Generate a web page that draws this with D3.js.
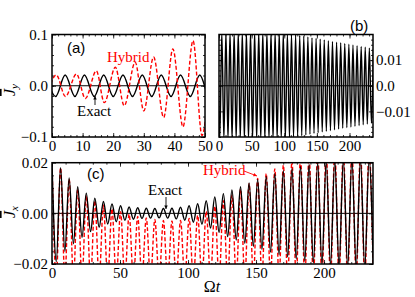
<!DOCTYPE html>
<html>
<head>
<meta charset="utf-8">
<script src="https://cdn.jsdelivr.net/npm/d3@7"></script>
<style>
  body { margin: 0; background: #fff; }
</style>
</head>
<body>
<div id="chart"></div>
<script>
// extrema (time Ωt, value)
const jyExactT = [-1.9, 1.2, 4.3, 7.5, 10.6, 13.8, 16.9, 20.0, 23.2, 26.3, 29.5, 32.6, 35.7, 38.9, 42.0, 45.2, 48.3,
  51.4, 54.6, 57.7, 60.9, 64.0, 67.1, 70.3, 73.4, 76.6, 79.7, 82.8, 86.0, 89.1, 92.3, 95.4, 98.5, 101.7, 104.8,
  108.0, 111.1, 114.2, 117.4, 120.5, 123.7, 126.8, 129.9, 133.1, 136.2, 139.4, 142.5, 145.6, 148.8, 151.9, 155.1,
  158.2, 161.3, 164.5, 167.6, 170.8, 173.9, 177.0, 180.2, 183.3, 186.5, 189.6, 192.7, 195.9, 199.0, 202.2, 205.3,
  208.4, 211.6, 214.7, 217.9, 221.0, 224.1, 227.3, 230.4, 233.6, 236.7];
const jyExact = [0.021, -0.021, 0.021, -0.021, 0.021, -0.021, 0.021, -0.021, 0.021, -0.021, 0.021, -0.021, 0.021,
  -0.021, 0.021, -0.021, 0.021, -0.021, 0.021, -0.021, 0.021, -0.021, 0.021, -0.021, 0.021, -0.021, 0.021, -0.021,
  0.021, -0.021, 0.021, -0.0209, 0.0207, -0.0206, 0.0204, -0.0203, 0.0202, -0.0200, 0.0199, -0.0197, 0.0196,
  -0.0195, 0.0193, -0.0192, 0.0190, -0.0189, 0.0187, -0.0186, 0.0185, -0.0183, 0.0182, -0.0180, 0.0179, -0.0178,
  0.0176, -0.0175, 0.0173, -0.0172, 0.0170, -0.0169, 0.0168, -0.0166, 0.0165, -0.0163, 0.0162, -0.0161, 0.0159,
  -0.0158, 0.0156, -0.0155, 0.0153, -0.0152, 0.0150, -0.0149, 0.0147, -0.0146, 0.0144];

const jyHybridT = [-1.6, 1.4, 4.4, 8.0, 10.9, 14.5, 17.1, 20.7, 23.6, 27.2, 30.0, 33.2, 36.5, 39.5, 42.8, 46.1, 49.0, 52.3];
const jyHybrid = [-0.02, 0.021, -0.021, 0.023, -0.025, 0.029, -0.033, 0.036, -0.039, 0.046, -0.049, 0.056, -0.062,
  0.072, -0.080, 0.088, -0.097, 0.1];

const jxT = [0, 3.15, 6.3, 9.45, 12.6, 15.75, 18.9, 22.05, 25.2, 28.35, 31.5, 34.65, 37.8, 40.95, 44.1, 47.25, 50.4,
  53.55, 56.7, 59.85, 63.0, 66.15, 69.3, 72.45, 75.6, 78.75, 81.9, 85.05, 88.2, 91.35, 94.5, 97.65, 100.8, 103.95,
  107.1, 110.25, 113.4, 116.55, 119.7, 122.85, 126.0, 129.15, 132.3, 135.45, 138.6, 141.75, 144.9, 148.05, 151.2,
  154.35, 157.5, 160.65, 163.8, 166.95, 170.1, 173.25, 176.4, 179.55, 182.7, 185.85, 189.0, 192.15, 195.3, 198.45,
  201.6, 204.75, 207.9, 211.05, 214.2, 217.35, 220.5, 223.65, 226.8, 229.95, 233.1, 236.25];
const jxExact = [0.020, -0.019, 0.018, -0.015, 0.014, -0.012, 0.0105, -0.0095, 0.008, -0.0072, 0.006, -0.0055,
  0.0047, -0.0042, 0.0037, -0.0033, 0.003, -0.0027, 0.0025, -0.0023, 0.0022, -0.002, 0.002, -0.0019, 0.0019,
  -0.0018, 0.0019, -0.0019, 0.002, -0.0022, 0.0024, -0.0027, 0.003, -0.0035, 0.0038, -0.0043, 0.005, -0.0058,
  0.0065, -0.0075, 0.0078, -0.0092, 0.0092, -0.0105, 0.0105, -0.0118, 0.012, -0.013, 0.0133, -0.0142, 0.0146,
  -0.0153, 0.0158, -0.0163, 0.0168, -0.0172, 0.0177, -0.018, 0.0185, -0.0188, 0.0193, -0.0195, 0.02, -0.0201,
  0.0205, -0.0206, 0.021, -0.021, 0.0213, -0.0213, 0.0215, -0.0215, 0.0216, -0.0216, 0.0217, -0.0217];
const jxHybrid = [0.020, -0.026, 0.018, -0.026, 0.0135, -0.026, 0.0095, -0.026, 0.007, -0.026, 0.005, -0.026,
  0.0032, -0.026, 0.0018, -0.026, 0.0007, -0.026, -0.0003, -0.026, -0.0012, -0.026, -0.0018, -0.026, -0.0024,
  -0.026, -0.0028, -0.026, -0.003, -0.026, -0.0028, -0.026, -0.002, -0.026, -0.0008, -0.026, 0.0008, -0.026,
  0.0028, -0.026, 0.005, -0.026, 0.0072, -0.026, 0.0095, -0.026, 0.0117, -0.026, 0.0138, -0.026, 0.0157, -0.026,
  0.0175, -0.026, 0.019, -0.026, 0.0205, -0.026, 0.022, -0.026, 0.023, -0.026, 0.024, -0.026, 0.0245, -0.026,
  0.025, -0.026, 0.025, -0.026, 0.025, -0.026, 0.025, -0.026, 0.025, -0.026];

const svg = d3.select("#chart")
    .append("svg")
    .attr("width", 415)
    .attr("height", 297);

const serif = "Liberation Serif";
const sans = "Liberation Sans";
const red = "#ff0000";

function panel(id, box, xDom, yDom) {
    const x = d3.scaleLinear().domain(xDom).range([box.l, box.r]);
    const y = d3.scaleLinear().domain(yDom).range([box.b, box.t]);
    svg.append("clipPath").attr("id", id)
        .append("rect")
        .attr("x", box.l).attr("y", box.t)
        .attr("width", box.r - box.l).attr("height", box.b - box.t);
    const plot = svg.append("g").attr("clip-path", `url(#${id})`);
    plot.append("line")
        .attr("x1", box.l).attr("x2", box.r)
        .attr("y1", y(0)).attr("y2", y(0))
        .attr("stroke", "#000").attr("stroke-width", 1);
    return { x, y, plot, box };
}

function curve(p, T, V, dashed) {
    const line = d3.line()
        .x((d, i) => p.x(T[i]))
        .y(d => p.y(d))
        .curve(d3.curveMonotoneX);
    p.plot.append("path")
        .attr("d", line(V))
        .attr("fill", "none")
        .attr("stroke", dashed ? red : "#000")
        .attr("stroke-width", 1.4)
        .attr("stroke-dasharray", dashed ? "4,2.2" : null);
}

function axes(p, c) {
    const b = p.box;
    const put = (axis, tr) => {
        const a = svg.append("g").attr("transform", tr).call(axis);
        a.select(".domain").remove();
        a.selectAll("line").attr("stroke-width", 0.8);
        a.attr("font-size", 15).attr("font-family", serif);
        return a;
    };
    put(d3.axisBottom(p.x).tickValues(c.xMajor).tickSize(-4).tickPadding(3).tickFormat(c.xFmt), `translate(0,${b.b})`);
    put(d3.axisBottom(p.x).tickValues(c.xMinor).tickSize(-2).tickFormat(""), `translate(0,${b.b})`);
    put(d3.axisTop(p.x).tickValues(c.xMajor).tickSize(-4).tickFormat(""), `translate(0,${b.t})`);
    put(d3.axisTop(p.x).tickValues(c.xMinor).tickSize(-2).tickFormat(""), `translate(0,${b.t})`);
    put(d3.axisLeft(p.y).tickValues(c.yMajor).tickSize(-4).tickPadding(4).tickFormat(c.leftFmt || ""), `translate(${b.l},0)`);
    put(d3.axisLeft(p.y).tickValues(c.yMinor).tickSize(-2).tickFormat(""), `translate(${b.l},0)`);
    put(d3.axisRight(p.y).tickValues(c.yMajor).tickSize(-4).tickPadding(3).tickFormat(c.rightFmt || ""), `translate(${b.r},0)`);
    put(d3.axisRight(p.y).tickValues(c.yMinor).tickSize(-2).tickFormat(""), `translate(${b.r},0)`);
    svg.append("rect")
        .attr("x", b.l).attr("y", b.t)
        .attr("width", b.r - b.l).attr("height", b.b - b.t)
        .attr("fill", "none").attr("stroke", "#000").attr("stroke-width", 1.5);
}

function label(x, y, txt, opts = {}) {
    return svg.append("text")
        .attr("x", x).attr("y", y)
        .attr("font-family", opts.sans ? sans : serif)
        .attr("font-size", opts.size || 15)
        .attr("fill", opts.color || "#000")
        .attr("text-anchor", opts.anchor || "start")
        .text(txt);
}

function arrow(x1, y1, x2, y2, color) {
    const ang = Math.atan2(y2 - y1, x2 - x1);
    svg.append("line")
        .attr("x1", x1).attr("y1", y1).attr("x2", x2).attr("y2", y2)
        .attr("stroke", color).attr("stroke-width", 0.9);
    const L = 4, w = 0.45;
    svg.append("path")
        .attr("d", `M${x2},${y2}L${x2 - L * Math.cos(ang - w)},${y2 - L * Math.sin(ang - w)}L${x2 - L * Math.cos(ang + w)},${y2 - L * Math.sin(ang + w)}Z`)
        .attr("fill", color);
}

// (a)
const pa = panel("clipA", { l: 52, r: 205, t: 34.5, b: 137 }, [0, 50], [-0.1, 0.1]);
curve(pa, jyExactT, jyExact, false);
curve(pa, jyHybridT, jyHybrid, true);
axes(pa, {
    xMajor: [0, 10, 20, 30, 40, 50], xMinor: d3.range(0, 50, 2), xFmt: d3.format("d"),
    yMajor: [-0.1, 0, 0.1], yMinor: d3.range(-0.1, 0.1, 0.02), leftFmt: d3.format(".1f")
});

// (b)
const bLabels = ["\u22120.01", "0.0", "0.01"];
const pb = panel("clipB", { l: 219, r: 373, t: 34.5, b: 137 }, [0, 236], [-0.02, 0.02]);
curve(pb, jyExactT, jyExact, false);
axes(pb, {
    xMajor: [0, 50, 100, 150, 200], xMinor: d3.range(0, 236, 10), xFmt: d3.format("d"),
    yMajor: [-0.01, 0, 0.01], yMinor: d3.range(-0.02, 0.02, 0.002), rightFmt: (d, i) => bLabels[i]
});

// (c)
const pc = panel("clipC", { l: 52, r: 373, t: 162.7, b: 264 }, [0, 236], [-0.02, 0.02]);
curve(pc, jxT, jxHybrid, true);
curve(pc, jxT, jxExact, false);
axes(pc, {
    xMajor: [0, 50, 100, 150, 200], xMinor: d3.range(0, 236, 10), xFmt: d3.format("d"),
    yMajor: [-0.02, 0, 0.02], yMinor: d3.range(-0.02, 0.02, 0.005), leftFmt: d3.format(".2f")
});

// panel tags
label(67, 53, "(a)", { sans: true });
label(350, 31, "(b)", { sans: true });
label(87, 179, "(c)", { sans: true });

// annotations
label(107, 62, "Hybrid", { color: red });
label(77, 116, "Exact");
arrow(95, 105, 95, 96, "#000");
label(148, 195, "Exact");
arrow(166, 197, 166, 209, "#000");
label(203, 175, "Hybrid", { color: red });
arrow(244, 171, 257, 176, red);

// axis titles
function ylab(cx, cy, sub) {
    const t = svg.append("text")
        .attr("transform", `translate(${cx},${cy}) rotate(-90)`)
        .attr("text-anchor", "middle")
        .attr("font-family", serif)
        .attr("font-size", 16)
        .attr("font-style", "italic");
    t.append("tspan").style("text-decoration", "overline").text("J");
    t.append("tspan").attr("font-size", 11).attr("dy", 3).text(sub);
}
ylab(15, 90, "y");
ylab(15, 212, "x");

const xt = svg.append("text")
    .attr("x", 212).attr("y", 292)
    .attr("text-anchor", "middle")
    .attr("font-family", serif)
    .attr("font-size", 16);
xt.append("tspan").text("\u03A9");
xt.append("tspan").attr("font-style", "italic").text("t");
</script>
</body>
</html>
